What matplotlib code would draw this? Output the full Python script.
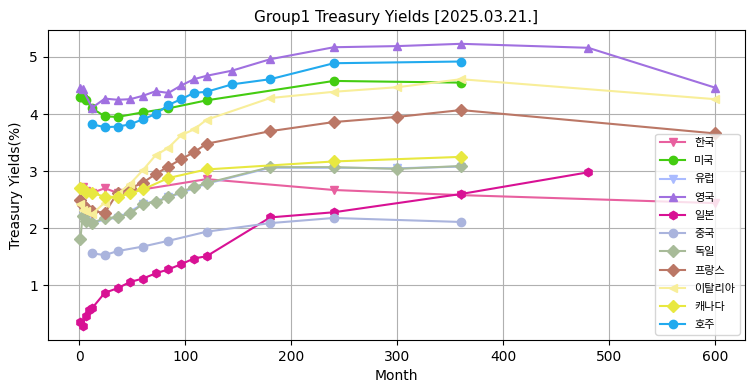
import matplotlib.pyplot as plt

plt.rcParams['font.family'] = ['DejaVu Sans', 'Noto Sans CJK KR']

# 국가별 만기(개월) / 금리(%)
kr_m = [3, 6, 12, 24, 36, 60, 120, 240, 360, 600]
kr_y = [2.72, 2.66, 2.62, 2.70, 2.62, 2.68, 2.86, 2.67, 2.58, 2.44]

us_m = [1, 2, 3, 6, 12, 24, 36, 60, 84, 120, 240, 360]
us_y = [4.30, 4.30, 4.29, 4.24, 4.10, 3.96, 3.95, 4.03, 4.10, 4.24, 4.58, 4.55]

eu_m = [3, 6, 12, 24, 36, 60, 84, 120, 180, 240, 300, 360]
eu_y = [2.20, 2.12, 2.08, 2.16, 2.18, 2.42, 2.54, 2.78, 3.06, 3.06, 3.05, 3.08]

uk_m = [1, 3, 12, 24, 36, 48, 60, 72, 84, 96, 108, 120, 144, 180, 240, 300, 360, 480, 600]
uk_y = [4.46, 4.44, 4.11, 4.27, 4.25, 4.26, 4.32, 4.40, 4.37, 4.50, 4.61, 4.67, 4.76,
        4.96, 5.17, 5.19, 5.23, 5.16, 4.46]

jp_m = [1, 3, 6, 9, 12, 24, 36, 48, 60, 72, 84, 96, 108, 120, 180, 240, 360, 480]
jp_y = [0.35, 0.29, 0.47, 0.57, 0.60, 0.87, 0.95, 1.06, 1.12, 1.21, 1.28, 1.37, 1.47,
        1.51, 2.19, 2.28, 2.60, 2.98]

cn_m = [12, 24, 36, 60, 84, 120, 180, 240, 360]
cn_y = [1.56, 1.53, 1.60, 1.68, 1.78, 1.94, 2.09, 2.18, 2.11]

de_m = [1, 3, 6, 12, 24, 36, 48, 60, 72, 84, 96, 108, 120, 180, 240, 300, 360]
de_y = [1.82, 2.21, 2.12, 2.09, 2.18, 2.19, 2.26, 2.43, 2.46, 2.54, 2.64, 2.72, 2.79,
        3.07, 3.07, 3.04, 3.09]

fr_m = [1, 3, 6, 12, 24, 36, 48, 60, 72, 84, 96, 108, 120, 180, 240, 300, 360, 600]
fr_y = [2.50, 2.40, 2.36, 2.30, 2.27, 2.62, 2.70, 2.80, 2.95, 3.08, 3.21, 3.33, 3.48,
        3.70, 3.86, 3.95, 4.07, 3.66]

it_m = [1, 3, 6, 12, 24, 36, 48, 60, 72, 84, 96, 108, 120, 180, 240, 300, 360, 600]
it_y = [2.42, 2.32, 2.30, 2.25, 2.45, 2.60, 2.78, 3.02, 3.28, 3.41, 3.63, 3.73, 3.90,
        4.28, 4.39, 4.47, 4.61, 4.26]

ca_m = [1, 3, 6, 12, 24, 36, 48, 60, 84, 120, 240, 360]
ca_y = [2.70, 2.68, 2.63, 2.62, 2.55, 2.55, 2.61, 2.68, 2.88, 3.03, 3.17, 3.25]

au_m = [12, 24, 36, 48, 60, 72, 84, 96, 108, 120, 144, 180, 240, 360]
au_y = [3.82, 3.77, 3.78, 3.82, 3.91, 4.00, 4.16, 4.26, 4.37, 4.39, 4.52, 4.61, 4.89, 4.92]

series = [
    ('한국', kr_m, kr_y, '#e8609f', 'v'),
    ('미국', us_m, us_y, '#44cc11', 'o'),
    ('유럽', eu_m, eu_y, '#aabbff', 'v'),
    ('영국', uk_m, uk_y, '#a070e0', '^'),
    ('일본', jp_m, jp_y, '#d81194', 'h'),
    ('중국', cn_m, cn_y, '#aab4dd', 'o'),
    ('독일', de_m, de_y, '#a8bb99', 'D'),
    ('프랑스', fr_m, fr_y, '#bb7766', 'D'),
    ('이탈리아', it_m, it_y, '#f8ee99', '<'),
    ('캐나다', ca_m, ca_y, '#e8e840', 'D'),
    ('호주', au_m, au_y, '#22aaee', 'o'),
]

fig, ax = plt.subplots(figsize=(7.55, 3.91), dpi=100)
fig.subplots_adjust(left=0.063, right=0.987, top=0.923, bottom=0.13)

for name, m, y, c, mk in series:
    ax.plot(m, y, color=c, marker=mk, markersize=6, linewidth=1.5, label=name)

ax.set_xlim(-30, 628)
ax.set_ylim(0.04, 5.47)
ax.set_yticks([1, 2, 3, 4, 5])
ax.grid(True, color='#b0b0b0')
ax.set_title('Group1 Treasury Yields [2025.03.21.]', fontsize=11)
ax.set_xlabel('Month')
ax.set_ylabel('Treasury Yields(%)')
ax.legend(loc='lower right', prop={'family': 'Noto Sans CJK KR', 'size': 8},
          labelspacing=0.74, handlelength=2.3)

plt.savefig('out.png')
